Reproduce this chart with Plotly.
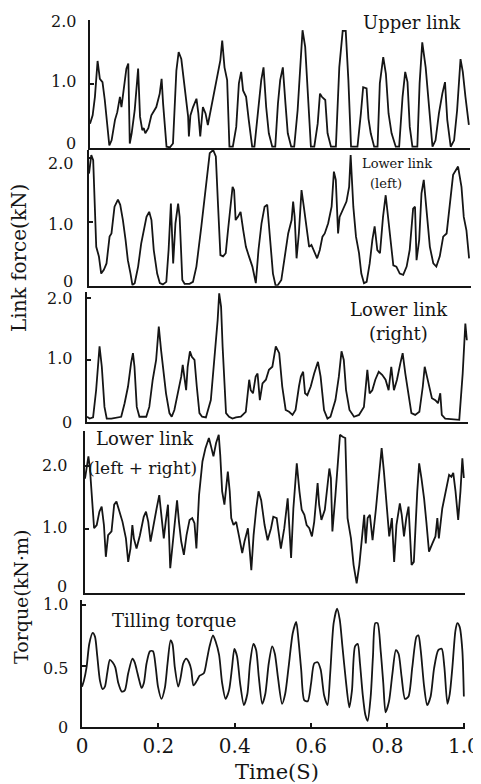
import plotly.graph_objects as go

W, H = 481, 784

# ---------------- data (time in s, value) ----------------
upper_t = [0.000,0.007,0.013,0.020,0.026,0.033,0.039,0.046,0.051,0.057,0.066,0.072,0.079,0.083,0.089,0.096,0.101,0.105,0.110,0.118,
           0.127,0.132,0.138,0.142,0.146,0.154,0.162,0.175,0.184,0.189,0.193,0.202,0.211,0.219,0.228,0.234,0.241,0.250,0.259,0.261,
           0.265,0.272,0.281,0.286,0.291,0.298,0.305,0.311,0.320,0.329,0.338,0.344,0.349,0.355,0.362,0.368,0.377,0.386,0.393,0.399,
           0.404,0.412,0.419,0.428,0.434,0.443,0.452,0.458,0.465,0.472,0.481,0.489,0.496,0.502,0.509,0.516,0.522,0.531,0.539,0.548,
           0.555,0.561,0.568,0.575,0.583,0.592,0.601,0.607,0.612,0.621,0.627,0.636,0.649,0.658,0.667,0.675,0.682,0.689,0.706,0.715,
           0.721,0.730,0.735,0.741,0.750,0.759,0.765,0.774,0.781,0.788,0.796,0.807,0.816,0.825,0.832,0.838,0.844,0.851,0.864,0.870,
           0.877,0.886,0.895,0.904,0.912,0.921,0.930,0.937,0.943,0.952,0.961,0.969,0.978,0.984,0.991,1.000]
upper_v = [0.38,0.51,0.80,1.36,1.08,1.03,0.75,0.33,0.04,0.12,0.44,0.56,0.80,0.64,0.90,1.24,1.32,0.07,0.23,0.59,
           1.24,0.49,0.28,0.31,0.23,0.31,0.51,0.64,0.85,1.08,0.69,0.02,0.01,0.07,1.21,1.50,1.39,0.93,0.49,0.18,
           0.51,0.64,0.77,0.54,0.18,0.64,0.54,0.36,0.64,0.90,1.19,1.37,1.68,1.26,1.06,0.02,0.02,0.33,1.01,1.19,
           0.90,0.80,0.44,0.02,0.02,0.49,1.06,1.26,0.64,0.23,0.02,0.02,0.69,1.06,1.26,0.69,0.23,0.02,0.02,0.59,
           1.26,1.84,1.58,0.75,0.02,0.02,0.38,0.85,0.80,0.75,0.23,0.02,0.02,1.26,1.83,1.83,1.06,0.02,0.02,0.54,
           0.95,0.93,0.46,0.23,0.02,0.02,1.01,1.42,1.16,0.54,0.23,0.02,0.02,0.80,1.19,1.03,0.33,0.02,0.02,1.01,
           1.65,1.26,0.59,0.02,0.12,0.54,0.85,1.03,0.44,0.02,0.12,0.59,1.39,1.19,0.80,0.36]

left_t = [0.000,0.006,0.011,0.015,0.019,0.026,0.032,0.039,0.046,0.054,0.059,0.067,0.076,0.082,0.089,0.096,0.102,0.109,0.114,0.120,
          0.129,0.137,0.151,0.158,0.164,0.170,0.179,0.186,0.194,0.203,0.209,0.215,0.221,0.227,0.234,0.238,0.245,0.251,0.264,0.273,
          0.282,0.295,0.306,0.317,0.326,0.333,0.339,0.345,0.352,0.359,0.365,0.371,0.377,0.381,0.385,0.391,0.398,0.405,0.412,0.420,
          0.429,0.438,0.445,0.453,0.461,0.468,0.475,0.483,0.490,0.496,0.505,0.514,0.523,0.532,0.536,0.540,0.545,0.551,0.558,0.564,
          0.571,0.578,0.584,0.593,0.599,0.606,0.613,0.619,0.628,0.637,0.643,0.648,0.654,0.658,0.667,0.676,0.683,0.687,0.694,0.701,
          0.709,0.715,0.722,0.729,0.737,0.744,0.750,0.757,0.764,0.772,0.779,0.785,0.792,0.799,0.807,0.816,0.825,0.834,0.842,0.851,
          0.856,0.860,0.867,0.873,0.879,0.886,0.895,0.904,0.912,0.921,0.930,0.939,0.947,0.956,0.969,0.978,0.984,0.991,0.998]
left_v = [1.76,2.05,1.97,1.24,0.61,0.46,0.19,0.25,0.35,0.77,0.82,1.24,1.35,1.27,1.03,0.72,0.40,0.19,0.01,0.04,
          0.30,0.66,1.08,1.16,1.03,0.56,0.19,0.04,0.02,0.06,0.56,1.29,0.35,0.98,1.29,1.08,0.09,0.03,0.03,0.06,
          0.30,0.93,1.55,2.08,2.13,2.03,1.24,0.48,0.46,0.51,0.87,1.24,1.55,1.50,1.03,1.08,1.16,0.87,0.61,0.46,
          0.30,0.04,0.56,0.98,1.24,1.27,0.77,0.19,0.00,0.01,0.09,0.46,0.82,1.03,1.32,1.08,0.43,0.82,1.50,1.24,
          0.93,0.61,0.64,0.51,0.43,0.56,0.77,0.82,0.98,1.24,1.79,1.66,0.82,1.08,1.19,1.32,1.55,2.05,1.24,0.77,
          0.51,0.19,0.04,0.06,0.35,0.72,0.93,0.56,0.51,1.08,1.42,1.08,0.66,0.32,0.30,0.19,0.17,0.30,0.56,1.21,
          1.24,0.40,0.72,1.45,1.66,1.24,0.61,0.35,0.30,0.46,0.77,0.82,1.24,1.74,1.87,1.55,1.08,0.87,0.43]

right_t = [0.000,0.007,0.016,0.024,0.033,0.039,0.046,0.052,0.064,0.077,0.090,0.099,0.108,0.116,0.121,0.125,0.131,0.138,0.156,0.164,
           0.173,0.182,0.189,0.195,0.201,0.208,0.217,0.223,0.230,0.241,0.248,0.252,0.256,0.261,0.265,0.271,0.276,0.283,0.289,0.296,
           0.303,0.313,0.326,0.335,0.344,0.348,0.353,0.357,0.361,0.366,0.374,0.383,0.392,0.405,0.418,0.427,0.431,0.437,0.444,0.449,
           0.455,0.462,0.471,0.479,0.488,0.497,0.506,0.514,0.523,0.532,0.541,0.549,0.558,0.563,0.569,0.574,0.580,0.589,0.598,0.608,
           0.615,0.624,0.633,0.641,0.654,0.663,0.670,0.676,0.682,0.691,0.703,0.716,0.729,0.738,0.744,0.751,0.759,0.768,0.777,0.786,
           0.794,0.801,0.808,0.816,0.825,0.831,0.838,0.845,0.854,0.864,0.875,0.884,0.889,0.895,0.901,0.908,0.917,0.924,0.930,0.934,
           0.943,0.956,0.969,0.980,0.989,0.996,1.000]
right_v = [0.08,0.05,0.07,0.51,1.22,0.89,0.24,0.05,0.05,0.07,0.08,0.30,0.57,0.95,1.11,0.89,0.24,0.08,0.08,0.24,
           0.68,1.00,1.54,1.16,0.84,0.46,0.14,0.08,0.19,0.51,0.73,0.92,0.73,0.51,0.89,1.14,1.05,1.00,0.57,0.14,
           0.08,0.07,0.35,0.95,1.65,2.08,1.86,1.22,0.73,0.14,0.08,0.05,0.07,0.08,0.16,0.68,0.51,0.46,0.73,0.78,
           0.35,0.62,0.68,0.84,0.89,1.22,1.11,0.57,0.19,0.16,0.11,0.19,0.57,0.73,0.81,0.46,0.43,0.57,0.78,0.97,
           0.73,0.19,0.05,0.08,0.35,0.73,1.14,1.00,0.51,0.19,0.08,0.11,0.24,0.84,0.46,0.51,0.68,0.81,0.76,0.68,
           0.51,0.89,0.51,0.68,0.95,1.11,0.78,0.51,0.14,0.11,0.16,0.57,0.89,0.73,0.57,0.38,0.35,0.30,0.46,0.11,
           0.05,0.04,0.04,0.03,0.78,1.59,1.32]

sum_t = [0.000,0.004,0.009,0.013,0.018,0.024,0.031,0.038,0.044,0.050,0.055,0.061,0.070,0.077,0.083,0.090,0.099,0.108,0.114,0.120,
         0.125,0.129,0.136,0.145,0.155,0.161,0.167,0.173,0.180,0.189,0.196,0.202,0.208,0.213,0.219,0.225,0.231,0.237,0.243,0.248,
         0.254,0.261,0.268,0.276,0.283,0.289,0.294,0.301,0.310,0.318,0.327,0.333,0.339,0.346,0.353,0.357,0.362,0.368,0.373,0.377,
         0.382,0.386,0.392,0.399,0.406,0.415,0.421,0.430,0.439,0.445,0.452,0.458,0.465,0.474,0.482,0.491,0.497,0.506,0.517,0.526,
         0.535,0.544,0.550,0.559,0.566,0.572,0.579,0.585,0.592,0.599,0.605,0.614,0.618,0.624,0.633,0.645,0.649,0.653,0.661,0.667,
         0.673,0.680,0.687,0.693,0.702,0.709,0.717,0.724,0.731,0.737,0.741,0.746,0.752,0.759,0.768,0.776,0.783,0.789,0.796,0.803,
         0.810,0.816,0.822,0.831,0.836,0.842,0.848,0.854,0.862,0.868,0.877,0.882,0.888,0.895,0.901,0.908,0.917,0.925,0.930,0.934,
         0.943,0.952,0.961,0.967,0.972,0.978,0.985,0.991,0.996,1.000]
sum_v = [1.80,1.99,2.15,1.96,1.44,1.02,1.07,1.28,1.36,1.07,0.57,0.91,0.97,1.39,1.44,1.28,1.12,0.86,0.49,0.70,
         1.07,0.86,0.70,0.91,1.20,1.28,1.12,0.81,1.07,1.33,1.54,1.23,0.86,1.12,1.39,0.39,0.76,1.12,1.46,1.12,
         0.81,0.60,0.91,1.15,1.18,1.10,0.70,1.54,2.07,2.28,2.44,2.30,2.15,2.36,2.49,2.17,1.60,1.39,1.65,1.91,
         1.60,1.18,1.07,1.12,0.91,0.63,0.81,1.02,0.36,0.91,1.33,1.60,1.46,1.07,0.83,1.02,1.20,1.18,0.70,1.02,
         1.49,0.55,1.33,2.04,1.60,1.31,1.23,1.07,1.02,0.89,1.12,1.73,1.39,1.15,1.31,1.96,1.81,0.97,1.54,1.96,
         2.49,2.46,2.44,1.18,0.86,0.44,0.15,0.44,0.91,1.23,0.78,1.18,1.23,0.83,1.33,1.89,2.28,1.91,1.33,0.89,
         1.18,0.49,1.07,1.41,1.23,0.89,1.18,1.36,0.44,0.49,1.60,2.04,1.81,1.49,1.12,0.65,0.78,0.89,1.18,0.86,
         1.33,1.62,1.86,1.83,1.89,1.60,1.15,1.60,2.12,1.81]

torque_t = [0.000,0.005,0.012,0.019,0.028,0.034,0.040,0.047,0.054,0.060,0.066,0.073,0.080,0.087,0.095,0.104,0.112,0.121,0.132,0.138,
            0.143,0.150,0.156,0.162,0.169,0.178,0.186,0.193,0.199,0.208,0.217,0.224,0.232,0.237,0.243,0.252,0.258,0.265,0.273,0.280,
            0.286,0.292,0.301,0.308,0.319,0.327,0.334,0.343,0.350,0.359,0.367,0.376,0.385,0.393,0.399,0.406,0.414,0.424,0.433,0.440,
            0.449,0.456,0.463,0.472,0.480,0.489,0.498,0.505,0.513,0.524,0.532,0.541,0.552,0.561,0.567,0.574,0.582,0.591,0.600,0.608,
            0.617,0.625,0.634,0.643,0.650,0.659,0.668,0.675,0.682,0.691,0.700,0.707,0.715,0.722,0.728,0.735,0.742,0.748,0.756,0.762,
            0.768,0.774,0.782,0.789,0.795,0.804,0.813,0.822,0.829,0.837,0.846,0.855,0.865,0.876,0.881,0.887,0.896,0.904,0.913,0.922,
            0.933,0.942,0.949,0.957,0.963,0.970,0.978,0.983,0.989,0.996,1.000]
torque_v = [0.33,0.38,0.49,0.68,0.77,0.74,0.58,0.38,0.31,0.33,0.44,0.55,0.53,0.49,0.36,0.29,0.30,0.44,0.56,0.53,
            0.47,0.38,0.32,0.36,0.52,0.62,0.62,0.49,0.33,0.23,0.32,0.52,0.71,0.68,0.49,0.33,0.40,0.52,0.56,0.53,
            0.47,0.34,0.38,0.42,0.44,0.55,0.66,0.75,0.70,0.59,0.36,0.23,0.30,0.49,0.64,0.58,0.36,0.18,0.27,0.52,
            0.68,0.63,0.41,0.19,0.27,0.52,0.66,0.60,0.41,0.19,0.27,0.49,0.77,0.86,0.71,0.47,0.22,0.21,0.36,0.52,
            0.53,0.47,0.26,0.18,0.44,0.85,0.97,0.88,0.66,0.38,0.16,0.30,0.66,0.68,0.52,0.27,0.10,0.05,0.25,0.58,
            0.85,0.85,0.63,0.36,0.12,0.21,0.44,0.63,0.60,0.41,0.23,0.25,0.49,0.74,0.75,0.63,0.33,0.18,0.25,0.48,
            0.63,0.64,0.49,0.19,0.27,0.49,0.79,0.85,0.82,0.63,0.25]

x_ticks = [0, 0.2, 0.4, 0.6, 0.8, 1.0]
x_ticktext = ["0", "0.2", "0.4", "0.6", "0.8", "1.0"]
force_ticks = [0, 1.0, 2.0]
force_ticktext = ["0", "1.0", "2.0"]
torque_ticks = [0, 0.5, 1.0]
torque_ticktext = ["0", "0.5", "1.0"]

# ---------------- layout helpers ----------------
# the page places the figure 8 px in from the top-left corner (default body margin)
OFF = 8

def px(x):
    return (x - OFF) / W

def py(y):
    return 1 - (y - OFF) / H

INK = "#151515"
FONT = "DejaVu Serif"

# panel geometry in screen pixels: left, right, bottom, top, y max,
# tick values/labels, label gap from the axis, per-label vertical nudge (as in the scan)
panels = [
    (upper_t, upper_v, 90, 470, 148.0, 20.0, 2.0, force_ticks, force_ticktext, 12, [4, 2, -2], False),
    (left_t, left_v, 89, 471, 285.7, 150.0, 2.13, force_ticks, force_ticktext, 14, [4, -3, -5], False),
    (right_t, right_v, 87, 468, 421.7, 292.1, 2.1, force_ticks, force_ticktext, 13, [-1, 1, 0], False),
    (sum_t, sum_v, 85, 465, 593.0, 431.0, 2.55, force_ticks, force_ticktext, 16, [7, 2, 0], False),
    (torque_t, torque_v, 82, 465, 727.0, 600.0, 1.04, torque_ticks, torque_ticktext, 12, [0, -3, 0], True),
]

fig = go.Figure()
layout = dict(
    width=W, height=H, autosize=False,
    margin=dict(l=0, r=0, t=0, b=0, pad=0, autoexpand=False),
    paper_bgcolor="white", plot_bgcolor="white",
    showlegend=False,
    font=dict(family=FONT, color=INK),
)

ann = []
for i, (t, v, l, r, b, tp, ymax, yt, ytt, gap, nudges, smooth) in enumerate(panels, start=1):
    xa = "x" if i == 1 else f"x{i}"
    ya = "y" if i == 1 else f"y{i}"
    line = dict(color=INK, width=1.8)
    if smooth:
        line.update(shape="spline", smoothing=0.7)
    fig.add_trace(go.Scatter(x=t, y=v, mode="lines", line=line, xaxis=xa, yaxis=ya,
                             hoverinfo="skip", cliponaxis=False))
    xkey = "xaxis" if i == 1 else f"xaxis{i}"
    ykey = "yaxis" if i == 1 else f"yaxis{i}"
    layout[xkey] = dict(
        domain=[px(l), px(r)], range=[0, 1.003], anchor=ya, automargin=False,
        showline=True, linecolor=INK, linewidth=2, showgrid=False, zeroline=False,
        ticks="inside" if smooth else "", ticklen=4, tickcolor=INK, tickwidth=1.5,
        tickvals=x_ticks, ticktext=x_ticktext, showticklabels=smooth,
        tickfont=dict(family=FONT, size=20, color=INK),
    )
    layout[ykey] = dict(
        domain=[py(b), py(tp)], range=[0, ymax], anchor=xa, automargin=False,
        showline=True, linecolor=INK, linewidth=2, showgrid=False, zeroline=False,
        ticks="inside", ticklen=4, tickcolor=INK, tickwidth=1.5,
        tickvals=yt, showticklabels=False,
    )
    # y tick labels placed on the axis scale, nudged slightly as in the printed figure
    for val, txt, nudge in zip(yt, ytt, nudges):
        ann.append(dict(text=txt, x=px(l), xref="paper", y=val, yref=ya,
                        xanchor="right", yanchor="middle", xshift=-gap, yshift=nudge,
                        showarrow=False, font=dict(family=FONT, size=16, color=INK)))

def label(text, x, y, size, xanchor="center", angle=0):
    ann.append(dict(text=text, x=px(x), y=py(y), xref="paper", yref="paper",
                    showarrow=False, xanchor=xanchor, yanchor="middle",
                    textangle=angle, font=dict(family=FONT, size=size, color=INK)))

label("Upper link", 412, 23, 18)
label("Lower link", 397, 163, 13)
label("(left)", 386, 183, 13)
label("Lower link", 399, 309, 18)
label("(right)", 398, 333, 18)
label("Lower link", 145, 438, 18)
label("(left + right)", 142, 468, 17)
label("Tilling torque", 174, 620, 18)
label("Link force(kN)", 19, 258, 20, angle=-90)
label("Torque(kN·m)", 21, 597, 19, angle=-90)
label("Time(S)", 277, 772, 21)
layout["annotations"] = ann

fig.update_layout(**layout)
fig.write_html("out.html")
